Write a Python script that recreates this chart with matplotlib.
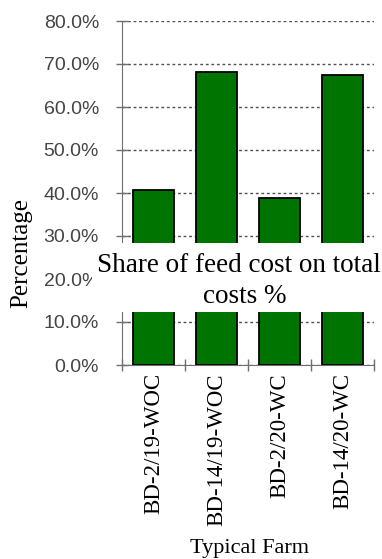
import matplotlib.pyplot as plt
from matplotlib.patches import Rectangle
import numpy as np

farms = ["BD-2/19-WOC", "BD-14/19-WOC", "BD-2/20-WC", "BD-14/20-WC"]
feed_share = [40.7, 68.1, 38.8, 67.4]   # share of feed cost on total costs, %
y_ticks = [0, 10, 20, 30, 40, 50, 60, 70, 80]

W, H = 382, 559
fig = plt.figure(figsize=(W / 100, H / 100), dpi=100)
ax = fig.add_axes([122 / W, 1 - 365 / H, 252 / W, 344 / H])

x = np.arange(len(farms))
ax.bar(x, feed_share, width=0.66, color="#007400", edgecolor="black",
       linewidth=1.3, zorder=3)

ax.set_xlim(-0.5, len(farms) - 0.5)
ax.set_ylim(0, 80)

# dashed gridlines at every 10 %
ax.set_yticks(y_ticks)
ax.set_yticklabels([f"{v:.1f}%" for v in y_ticks], fontfamily="Liberation Sans",
                   fontsize=14, color="#454545")
ax.yaxis.grid(True, linestyle=(0, (2, 2)), color="#505050", linewidth=1.0, zorder=1)
ax.tick_params(axis="y", direction="inout", length=9, width=1, color="#707070", pad=12)

ax.set_xticks(x)
ax.set_xticklabels(farms, rotation=90, fontfamily="Liberation Serif", fontsize=16.5)
ax.set_xticks(np.arange(len(farms) + 1) - 0.5, minor=True)
ax.tick_params(axis="x", which="major", length=0, pad=6)
ax.tick_params(axis="x", which="minor", direction="inout", length=8, width=1, color="#707070")

for side in ["top", "right"]:
    ax.spines[side].set_visible(False)
ax.spines["left"].set_color("#707070")
ax.spines["bottom"].set_color("#707070")

fig.text(21 / W, 1 - 253 / H, "Percentage", rotation=90, ha="center", va="center",
         fontfamily="Liberation Serif", fontsize=18)
fig.text(250 / W, 1 - 548 / H, "Typical Farm", ha="center", va="center",
         fontfamily="Liberation Serif", fontsize=16)

# chart title sits on a white panel across the middle of the bars
fig.patches.append(Rectangle((92 / W, 1 - 312 / H), 290 / W, 69 / H,
                             transform=fig.transFigure, facecolor="white",
                             edgecolor="none", zorder=5))
fig.text(239 / W, 1 - 272 / H, "Share of feed cost on total", ha="center",
         va="baseline", fontfamily="Liberation Serif", fontsize=19.5, zorder=6)
fig.text(245 / W, 1 - 303 / H, "costs %", ha="center",
         va="baseline", fontfamily="Liberation Serif", fontsize=19.5, zorder=6)

fig.savefig("out.png", dpi=100)
